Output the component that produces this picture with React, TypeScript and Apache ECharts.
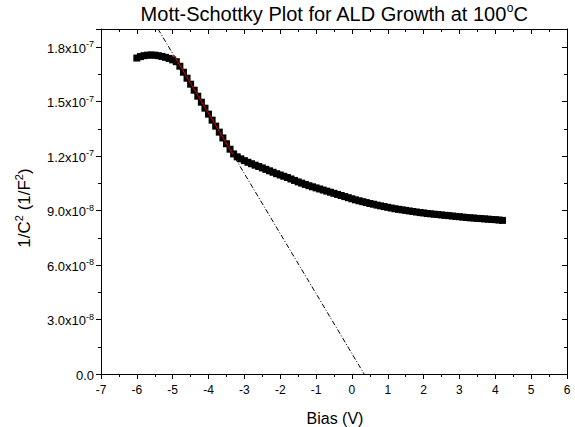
import React, { useEffect, useRef } from "react";
import * as echarts from "echarts";

// Bias (V)
const bias = [
  -6.0, -5.9, -5.8, -5.7, -5.6, -5.5, -5.4, -5.3, -5.2, -5.1,
  -5.0, -4.9, -4.8, -4.7, -4.6, -4.5, -4.4, -4.3, -4.2, -4.1,
  -4.0, -3.9, -3.8, -3.7, -3.6, -3.5, -3.4, -3.3, -3.2, -3.1,
  -3.0, -2.9, -2.8, -2.7, -2.6, -2.5, -2.4, -2.3, -2.2, -2.1,
  -2.0, -1.9, -1.8, -1.7, -1.6, -1.5, -1.4, -1.3, -1.2, -1.1,
  -1.0, -0.9, -0.8, -0.7, -0.6, -0.5, -0.4, -0.3, -0.2, -0.1,
  0.0, 0.1, 0.2, 0.3, 0.4, 0.5, 0.6, 0.7, 0.8, 0.9,
  1.0, 1.1, 1.2, 1.3, 1.4, 1.5, 1.6, 1.7, 1.8, 1.9,
  2.0, 2.1, 2.2, 2.3, 2.4, 2.5, 2.6, 2.7, 2.8, 2.9,
  3.0, 3.1, 3.2, 3.3, 3.4, 3.5, 3.6, 3.7, 3.8, 3.9,
  4.0, 4.1, 4.2,
];

// 1/C^2 in units of 1e-8 F^-2
const invC2e8 = [
  17.40, 17.48, 17.53, 17.56, 17.57, 17.56, 17.53, 17.49, 17.44, 17.38,
  17.30, 17.20, 16.95, 16.62, 16.29, 15.96, 15.63, 15.30, 14.97, 14.64,
  14.31, 13.98, 13.65, 13.32, 13.00, 12.68, 12.38, 12.12, 11.96, 11.85,
  11.75, 11.66, 11.58, 11.50, 11.43, 11.35, 11.27, 11.19, 11.11, 11.03,
  10.96, 10.89, 10.82, 10.74, 10.66, 10.58, 10.51, 10.44, 10.37, 10.31,
  10.25, 10.19, 10.13, 10.07, 10.01, 9.95, 9.89, 9.83, 9.77, 9.71,
  9.65, 9.59, 9.54, 9.49, 9.44, 9.39, 9.35, 9.30, 9.26, 9.22,
  9.18, 9.14, 9.10, 9.07, 9.04, 9.01, 8.98, 8.95, 8.92, 8.89,
  8.87, 8.84, 8.82, 8.80, 8.78, 8.76, 8.74, 8.72, 8.70, 8.68,
  8.66, 8.64, 8.62, 8.60, 8.59, 8.57, 8.56, 8.54, 8.53, 8.51,
  8.50, 8.48, 8.46,
];

// Linear (Mott-Schottky) fit: extrapolated dash-dot line and fitted red segment
const fitX = [-5.41, 0.34];
const fitY = [19.0e-8, 0];
const fitRedX = [-4.97, -3.32];
const fitRedY = [17.56e-8, 12.10e-8];

// Axis ranges/ticks
const xMin = -7, xMax = 6, xStep = 1;
const yMin = 0, yMax = 1.9e-7, yStep = 3e-8;

const FONT = "'Liberation Sans', Arial, sans-serif";

function fmtY(v: number): string {
  if (Math.abs(v) < 1e-20) return "{b|0.0}";
  const e = Math.floor(Math.log10(Math.abs(v)) + 1e-9);
  const m = v / Math.pow(10, e);
  return `{b|${m.toFixed(1)}x10}{s|${e}}`;
}

export default function App() {
  const ref = useRef<HTMLDivElement>(null);
  useEffect(() => {
    if (!ref.current) return;
    const chart = echarts.init(ref.current, undefined, { renderer: "svg" });
    const scatterData = bias.map((b, i) => [b, invC2e8[i] * 1e-8]);
    const axisLine = { show: true, onZero: false, lineStyle: { color: "#000", width: 1 } };
    const common = {
      type: "value" as const,
      splitLine: { show: false },
      axisLine,
    };
    chart.setOption({
      animation: false,
      backgroundColor: "#fff",
      textStyle: { fontFamily: FONT },
      grid: { left: 101, right: 8, top: 29, bottom: 53, containLabel: false },
      xAxis: [
        {
          ...common,
          position: "bottom",
          min: xMin,
          max: xMax,
          interval: xStep,
          axisTick: { show: true, inside: false, length: 5, lineStyle: { color: "#000" } },
          minorTick: { show: true, splitNumber: 2, length: 3, lineStyle: { color: "#000" } },
          axisLabel: { color: "#000", fontSize: 12, fontFamily: FONT, margin: 10 },
        },
        {
          ...common,
          position: "top",
          min: xMin,
          max: xMax,
          interval: xStep,
          axisTick: { show: true, inside: true, length: 5, lineStyle: { color: "#000" } },
          minorTick: { show: true, splitNumber: 2, length: 3, lineStyle: { color: "#000" } },
          axisLabel: { show: false },
        },
      ],
      yAxis: [
        {
          ...common,
          position: "left",
          min: yMin,
          max: yMax,
          interval: yStep,
          axisTick: { show: true, inside: false, length: 5, lineStyle: { color: "#000" } },
          minorTick: { show: true, splitNumber: 2, length: 3, lineStyle: { color: "#000" } },
          axisLabel: {
            color: "#000",
            margin: 7,
            showMaxLabel: false,
            formatter: fmtY,
            rich: {
              b: { fontSize: 13, fontFamily: FONT, color: "#000", lineHeight: 15, verticalAlign: "bottom" },
              s: { fontSize: 9, fontFamily: FONT, color: "#000", lineHeight: 15, verticalAlign: "top" },
            },
          },
        },
        {
          ...common,
          position: "right",
          min: yMin,
          max: yMax,
          interval: yStep,
          axisTick: { show: true, inside: true, length: 5, lineStyle: { color: "#000" } },
          minorTick: { show: true, splitNumber: 2, length: 3, lineStyle: { color: "#000" } },
          axisLabel: { show: false },
        },
      ],
      series: [
        {
          type: "scatter",
          xAxisIndex: 0,
          yAxisIndex: 0,
          symbol: "rect",
          symbolSize: 7,
          itemStyle: { color: "#000", opacity: 1 },
          data: scatterData,
          z: 2,
        },
        {
          type: "line",
          xAxisIndex: 0,
          yAxisIndex: 0,
          symbol: "none",
          lineStyle: { color: "#000", width: 1, type: [5, 2, 1, 2] },
          data: fitX.map((x, i) => [x, fitY[i]]),
          z: 3,
        },
        {
          type: "line",
          xAxisIndex: 0,
          yAxisIndex: 0,
          symbol: "none",
          lineStyle: { color: "#e00000", width: 1 },
          data: fitRedX.map((x, i) => [x, fitRedY[i]]),
          z: 4,
        },
      ],
      graphic: [
        {
          type: "text",
          x: 334,
          y: 13,
          style: {
            text: "{t|Mott-Schottky Plot for ALD Growth at 100}{s|o}{t|C}",
            align: "center",
            verticalAlign: "middle",
            rich: {
              t: { fontSize: 20, fontFamily: FONT, fill: "#000", lineHeight: 22, verticalAlign: "bottom" },
              s: { fontSize: 12, fontFamily: FONT, fill: "#000", lineHeight: 22, verticalAlign: "top" },
            },
          },
        },
        {
          type: "text",
          x: 23,
          y: 208,
          rotation: Math.PI / 2,
          style: {
            text: "{t|1/C}{s|2}{t| (1/F}{s|2}{t|)}",
            align: "center",
            verticalAlign: "middle",
            rich: {
              t: { fontSize: 17, fontFamily: FONT, fill: "#000", lineHeight: 19, verticalAlign: "bottom" },
              s: { fontSize: 11, fontFamily: FONT, fill: "#000", lineHeight: 19, verticalAlign: "top" },
            },
          },
        },
        {
          type: "text",
          x: 335,
          y: 418,
          style: {
            text: "Bias (V)",
            align: "center",
            verticalAlign: "middle",
            fontSize: 16,
            fontFamily: FONT,
            fill: "#000",
          },
        },
      ],
    });
    return () => chart.dispose();
  }, []);
  return (
    <div
      ref={ref}
      style={{ position: "fixed", left: 0, top: 0, width: 575, height: 427, background: "#fff" }}
    />
  );
}
